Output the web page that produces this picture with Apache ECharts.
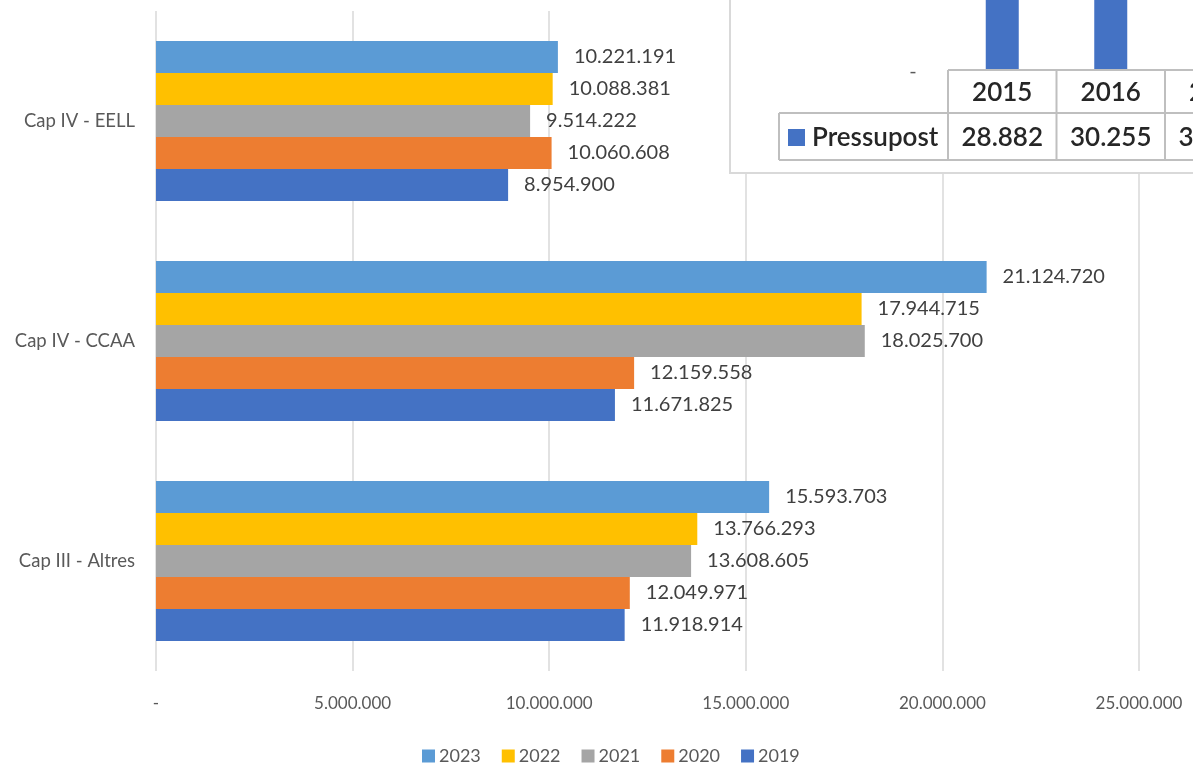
<!DOCTYPE html>
<html>
<head>
<meta charset="utf-8">
<script src="https://cdn.jsdelivr.net/npm/echarts@6/dist/echarts.min.js"></script>
<style>html,body{margin:0;padding:0;background:#fff;}#c{width:1193px;height:765px;}</style>
</head>
<body>
<div id="c"></div>
<script>
const categories = ['Cap III - Altres', 'Cap IV - CCAA', 'Cap IV - EELL'];
const seriesNames = ['2023', '2022', '2021', '2020', '2019'];
const v2023 = [15593703, 21124720, 10221191];
const v2022 = [13766293, 17944715, 10088381];
const v2021 = [13608605, 18025700, 9514222];
const v2020 = [12049971, 12159558, 10060608];
const v2019 = [11918914, 11671825, 8954900];
const seriesValues = [v2023, v2022, v2021, v2020, v2019];
const seriesColors = ['#5B9BD5', '#FFC000', '#A5A5A5', '#ED7D31', '#4472C4'];
const xTicks = [0, 5000000, 10000000, 15000000, 20000000, 25000000];

// inset (pasted table of another chart)
const insetYears = ['2015', '2016', '2017'];
const insetValues = [28882, 30255, 31500];
const insetSeriesName = 'Pressupost';

const FONT = 'Lato';
function fmt(n) {
  return String(Math.round(n)).replace(/\B(?=(\d{3})+(?!\d))/g, '.');
}

const chart = echarts.init(document.getElementById('c'));

const mainSeries = seriesNames.map((name, i) => ({
  name: name,
  type: 'bar',
  xAxisIndex: 0,
  yAxisIndex: 0,
  data: seriesValues[i],
  barWidth: 32,
  barGap: '0%',
  itemStyle: { color: seriesColors[i] },
  label: {
    show: true,
    position: 'right',
    distance: 16,
    color: '#404040',
    fontSize: 20,
    fontFamily: FONT,
    formatter: p => fmt(p.value)
  },
  z: 3
}));

// inset table graphics
const colW = 108.5, col0 = 948, rowTop = 70, rowMid = 113, rowBot = 160, leftCell = 779;
const tableLine = { stroke: '#BFBFBF', lineWidth: 2 };
const tfont = '600 26px ' + FONT;
const g = [];
g.push({ type: 'rect', z: 1, shape: { x: 730, y: -20, width: 500, height: 193 },
  style: { fill: '#ffffff', stroke: '#D9D9D9', lineWidth: 2 } });
g.push({ type: 'line', z: 20, shape: { x1: col0, y1: rowTop, x2: 1300, y2: rowTop }, style: tableLine });
g.push({ type: 'line', z: 20, shape: { x1: leftCell, y1: rowMid, x2: 1300, y2: rowMid }, style: tableLine });
g.push({ type: 'line', z: 20, shape: { x1: leftCell, y1: rowBot, x2: 1300, y2: rowBot }, style: tableLine });
g.push({ type: 'line', z: 20, shape: { x1: leftCell, y1: rowMid, x2: leftCell, y2: rowBot }, style: tableLine });
for (let i = 0; i <= insetYears.length; i++) {
  g.push({ type: 'line', z: 20, shape: { x1: col0 + i * colW, y1: rowTop, x2: col0 + i * colW, y2: rowBot }, style: tableLine });
}
insetYears.forEach((y, i) => {
  g.push({ type: 'text', z: 21, style: { text: y, x: col0 + (i + 0.5) * colW, y: (rowTop + rowMid) / 2 + 1,
    align: 'center', verticalAlign: 'middle', font: tfont, fill: '#262626' } });
  g.push({ type: 'text', z: 21, style: { text: fmt(insetValues[i]), x: col0 + (i + 0.5) * colW, y: (rowMid + rowBot) / 2 + 1,
    align: 'center', verticalAlign: 'middle', font: tfont, fill: '#262626' } });
});
g.push({ type: 'rect', z: 21, shape: { x: 788, y: 129, width: 17, height: 17 }, style: { fill: '#4472C4' } });
g.push({ type: 'text', z: 21, style: { text: insetSeriesName, x: 812, y: (rowMid + rowBot) / 2 + 1,
  align: 'left', verticalAlign: 'middle', font: tfont, fill: '#262626' } });
g.push({ type: 'text', z: 21, style: { text: '-', x: 913, y: 72,
  align: 'center', verticalAlign: 'middle', font: '20px ' + FONT, fill: '#595959' } });

chart.setOption({
  animation: false,
  backgroundColor: '#ffffff',
  textStyle: { fontFamily: FONT },
  grid: [
    { left: 156, right: 54, top: 11, bottom: 94, containLabel: false, outerBoundsMode: 'none' },
    { left: col0, top: 0, width: colW * insetYears.length, height: rowTop, containLabel: false, outerBoundsMode: 'none' }
  ],
  legend: {
    data: seriesNames,
    top: 742,
    left: 417,
    itemWidth: 13,
    itemHeight: 13,
    itemGap: 21,
    icon: 'rect',
    textStyle: { color: '#595959', fontSize: 18, fontFamily: FONT, padding: [0, 0, 0, -1] }
  },
  xAxis: [
    {
      type: 'value', gridIndex: 0, min: 0, max: 25000000, interval: 5000000,
      axisLine: { show: false }, axisTick: { show: false },
      splitLine: { show: true, lineStyle: { color: '#D9D9D9', width: 1.5 } },
      axisLabel: { color: '#595959', fontSize: 17, fontFamily: FONT, margin: 24,
        formatter: v => (v === 0 ? '-' : fmt(v)) }
    },
    {
      type: 'category', gridIndex: 1, data: insetYears, show: false
    }
  ],
  yAxis: [
    {
      type: 'category', gridIndex: 0, data: categories,
      axisLine: { show: false }, axisTick: { show: false },
      axisLabel: { color: '#595959', fontSize: 18.5, fontFamily: FONT, margin: 21 }
    },
    {
      type: 'value', gridIndex: 1, min: 0, max: 20000, show: false, splitLine: { show: false }
    }
  ],
  series: mainSeries.concat([{
    name: insetSeriesName,
    type: 'bar',
    xAxisIndex: 1,
    yAxisIndex: 1,
    data: insetValues,
    barWidth: 33,
    clip: true,
    itemStyle: { color: '#4472C4' },
    z: 5
  }]),
  graphic: g
});
</script>
</body>
</html>
